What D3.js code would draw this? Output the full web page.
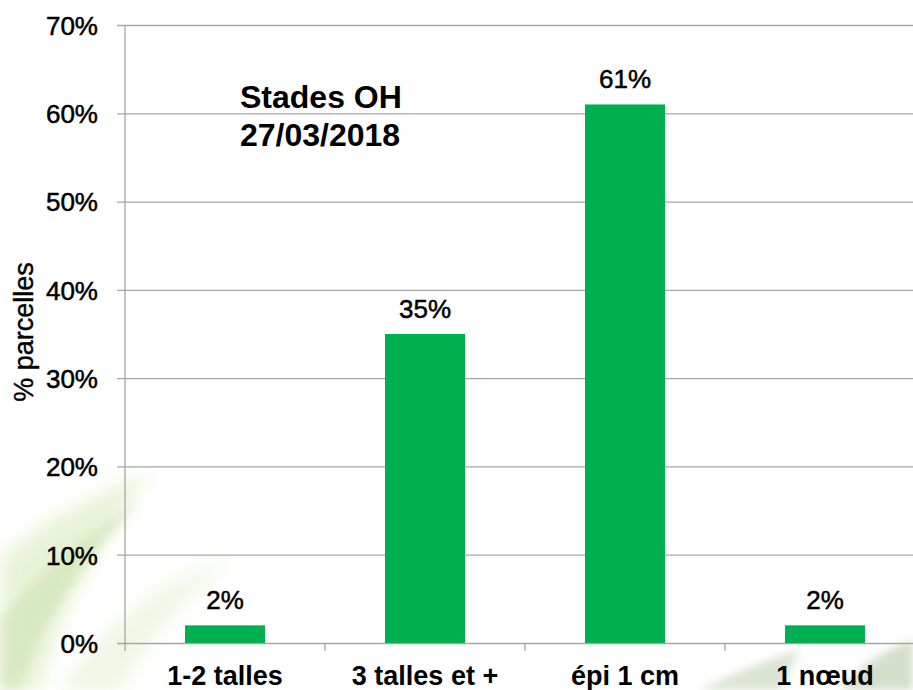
<!DOCTYPE html>
<html>
<head>
<meta charset="utf-8">
<script src="https://cdn.jsdelivr.net/npm/d3@7"></script>
<style>
  html, body { margin: 0; padding: 0; background: #fff; }
  svg { display: block; font-family: Arial, "Liberation Sans", sans-serif; }
</style>
</head>
<body>
<svg id="chart" width="913" height="690"></svg>
<script>
// data
var categories = ["1-2 talles", "3 talles et +", "épi 1 cm", "1 nœud"];
var values = [2, 35, 61, 2];
var yTicks = [0, 10, 20, 30, 40, 50, 60, 70];
var titleLines = ["Stades OH", "27/03/2018"];

var svg = d3.select("#chart");

// plot frame (note: "top" is taken by window.top)
var plotLeft = 125, plotRight = 925, plotTop = 25, plotBottom = 643;

// soft leaf background (bottom corners)
var defs = svg.append("defs");
defs.append("filter").attr("id", "blur").append("feGaussianBlur").attr("stdDeviation", 9);
defs.append("filter").attr("id", "blur2").append("feGaussianBlur").attr("stdDeviation", 4);

var deco = svg.append("g");
deco.append("path")
  .attr("d", "M0,690 L0,560 C40,520 90,500 150,470 C110,530 60,600 40,690 Z")
  .attr("fill", "#d6e9b8").attr("opacity", 0.55).attr("filter", "url(#blur)");
deco.append("path")
  .attr("d", "M0,620 C40,570 90,530 140,500 C100,550 50,600 20,690 L0,690 Z")
  .attr("fill", "#c2dca2").attr("opacity", 0.4).attr("filter", "url(#blur2)");
deco.append("path")
  .attr("d", "M60,690 C110,620 160,580 230,560 C170,610 140,650 120,690 Z")
  .attr("fill", "#e6f0d3").attr("opacity", 0.6).attr("filter", "url(#blur)");
deco.append("path")
  .attr("d", "M700,690 C740,670 780,655 800,650 L780,690 Z")
  .attr("fill", "#b8c9a8").attr("opacity", 0.5).attr("filter", "url(#blur2)");
deco.append("path")
  .attr("d", "M840,690 C860,665 885,650 913,640 L913,690 Z")
  .attr("fill", "#a9bf98").attr("opacity", 0.5).attr("filter", "url(#blur2)");

var x = d3.scaleBand().domain(categories).range([plotLeft, plotRight]).paddingInner(0.6).paddingOuter(0.3);
var y = d3.scaleLinear().domain([0, 70]).range([plotBottom, plotTop]);

// gridlines + y ticks
var yAxis = d3.axisLeft(y).tickValues(yTicks).tickFormat(function (d) { return d + "%"; })
  .tickSize(-(913 - plotLeft)).tickPadding(27);
var gy = svg.append("g").attr("transform", "translate(" + plotLeft + ",0)").call(yAxis);
gy.select(".domain").remove();
gy.selectAll(".tick line").attr("stroke", "#a6a6a6").attr("stroke-width", 1.3).attr("x1", -8);
gy.selectAll(".tick text")
  .attr("font-size", 26).attr("fill", "#000").attr("font-family", "Arial, 'Liberation Sans', sans-serif")
  .attr("stroke", "#000").attr("stroke-width", 0.5)
  .attr("dy", "0.36em");

// y axis line
svg.append("line").attr("x1", plotLeft).attr("x2", plotLeft).attr("y1", plotTop).attr("y2", plotBottom + 8)
  .attr("stroke", "#a6a6a6").attr("stroke-width", 1.3);

// category separators on x axis
var step = x.step();
svg.append("g").selectAll("line")
  .data(categories.slice(1))
  .join("line")
  .attr("x1", function (d) { return x(d) + x.bandwidth() / 2 - step / 2; })
  .attr("x2", function (d) { return x(d) + x.bandwidth() / 2 - step / 2; })
  .attr("y1", plotBottom).attr("y2", plotBottom + 8)
  .attr("stroke", "#a6a6a6").attr("stroke-width", 1.3);

// bars
svg.append("g").selectAll("rect")
  .data(values)
  .join("rect")
  .attr("x", function (d, i) { return x(categories[i]); })
  .attr("y", function (d) { return y(d); })
  .attr("width", x.bandwidth())
  .attr("height", function (d) { return plotBottom - y(d); })
  .attr("fill", "#00b050");

// value labels
svg.append("g").selectAll("text")
  .data(values)
  .join("text")
  .attr("x", function (d, i) { return x(categories[i]) + x.bandwidth() / 2; })
  .attr("y", function (d) { return y(d) - 16; })
  .attr("text-anchor", "middle")
  .attr("font-size", 26)
  .attr("stroke", "#000").attr("stroke-width", 0.5)
  .text(function (d) { return d + "%"; });

// category labels
svg.append("g").selectAll("text")
  .data(categories)
  .join("text")
  .attr("x", function (d) { return x(d) + x.bandwidth() / 2; })
  .attr("y", 685)
  .attr("text-anchor", "middle")
  .attr("font-size", 27)
  .attr("font-weight", "bold")
  .text(function (d) { return d; });

// y axis title
svg.append("text")
  .attr("transform", "translate(33,332) rotate(-90)")
  .attr("text-anchor", "middle")
  .attr("font-size", 27)
  .attr("stroke", "#000").attr("stroke-width", 0.4)
  .text("% parcelles");

// chart title
svg.append("g").selectAll("text")
  .data(titleLines)
  .join("text")
  .attr("x", 240)
  .attr("y", function (d, i) { return 108 + i * 38; })
  .attr("font-size", 32)
  .attr("font-weight", "bold")
  .text(function (d) { return d; });
</script>
</body>
</html>
